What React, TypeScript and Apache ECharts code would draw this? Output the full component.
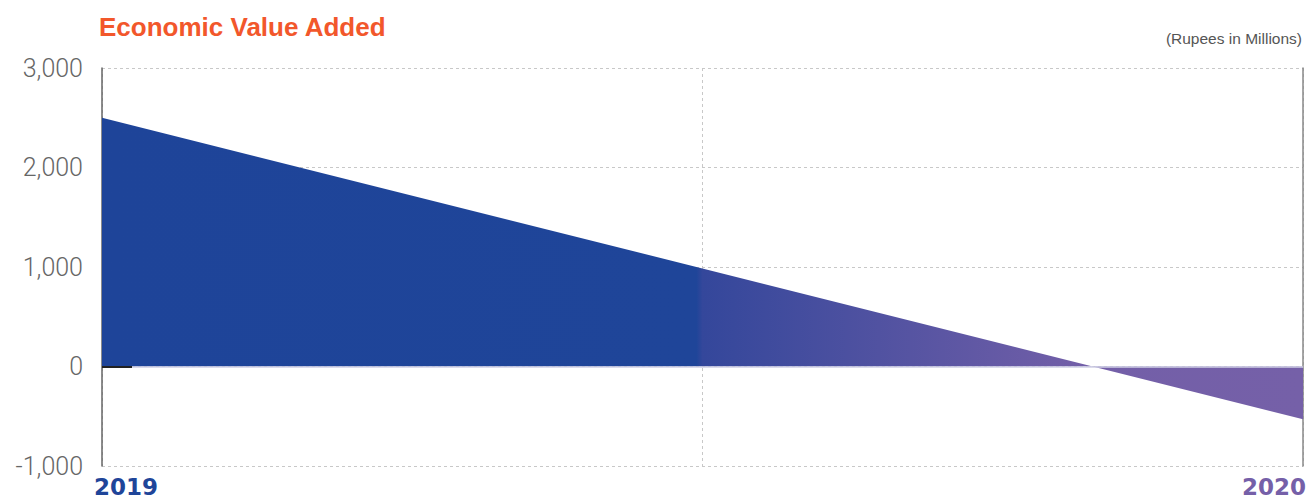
import React, { useEffect, useRef } from "react";
import * as echarts from "echarts";

const years = [2019, 2020];
const eva = [2500, -530];
const yTicks = [-1000, 0, 1000, 2000, 3000];
const titleText = "Economic Value Added";
const unitText = "(Rupees in Millions)";

export default function App() {
  const ref = useRef<HTMLDivElement>(null);
  useEffect(() => {
    if (!ref.current) return;
    const chart = echarts.init(ref.current, null, { renderer: "svg" });
    const fmt = (v: number) => v.toLocaleString("en-US");
    chart.setOption({
      animation: false,
      title: [
        {
          text: titleText,
          left: 94,
          top: 9,
          textStyle: { color: "#f2572b", fontSize: 26, fontWeight: "bold", fontFamily: "Liberation Sans" },
        },
        {
          text: unitText,
          right: 4,
          top: 25,
          textStyle: { color: "#555", fontSize: 15.5, fontWeight: "normal", fontFamily: "Liberation Sans" },
        },
      ],
      grid: { left: 102, right: 8, top: 68, bottom: 34 },
      xAxis: {
        type: "value",
        min: years[0],
        max: years[1],
        interval: 0.5,
        axisLine: { show: false },
        axisTick: { show: false },
        splitLine: { show: true, lineStyle: { color: "#c8c8c8", type: [3, 3], width: 1 } },
        axisLabel: {
          margin: 10,
          showMinLabel: true,
          showMaxLabel: true,
          alignMinLabel: "left",
          alignMaxLabel: "right",
          formatter: (v: number) => {
            if (v === years[0]) return `{a|${v}}`;
            if (v === years[1]) return `{b|${v}}`;
            return "";
          },
          rich: {
            a: { color: "#1f4599", fontSize: 23, lineHeight: 22, fontWeight: "bold", fontFamily: "DejaVu Sans", padding: [0, 0, 0, -8] },
            b: { color: "#7560a8", fontSize: 23, lineHeight: 22, fontWeight: "bold", fontFamily: "DejaVu Sans", padding: [0, -3, 0, 0] },
          },
        },
      },
      yAxis: [
        {
          type: "value",
          min: yTicks[0],
          max: yTicks[yTicks.length - 1],
          interval: 1000,
          axisLine: { show: true, lineStyle: { color: "#666", width: 1.5 } },
          axisTick: { show: false },
          splitLine: { show: true, lineStyle: { color: "#c8c8c8", type: [3, 3], width: 1 } },
          axisLabel: {
            margin: 19,
            formatter: (v: number) => fmt(v),
            color: "#666",
            fontSize: 25,
            fontWeight: 300,
            fontFamily: "Roboto",
          },
        },
        {
          type: "value",
          position: "right",
          min: yTicks[0],
          max: yTicks[yTicks.length - 1],
          interval: 1000,
          axisLine: { show: true, onZero: false, lineStyle: { color: "#888", width: 1.5 } },
          axisTick: { show: false },
          axisLabel: { show: false },
          splitLine: { show: false },
        },
      ],
      series: [
        {
          type: "line",
          data: years.map((y, i) => [y, eva[i]]),
          symbol: "none",
          lineStyle: { width: 0 },
          areaStyle: {
            opacity: 1,
            color: new echarts.graphic.LinearGradient(0, 0, 1, 0, [
              { offset: 0, color: "#1e4499" },
              { offset: 0.495, color: "#1f4599" },
              { offset: 0.5, color: "#34479b" },
              { offset: 0.82, color: "#735fa8" },
              { offset: 1, color: "#7560a8" },
            ]),
          },
          markLine: {
            silent: true,
            symbol: "none",
            label: { show: false },
            data: [
              { yAxis: 0, lineStyle: { color: "#cfcfe6", type: "solid", width: 1.5 } },
              [
                { coord: [years[0], 0], lineStyle: { color: "#222", type: "solid", width: 2 } },
                { coord: [years[0] + 0.025, 0] },
              ],
            ],
          },
          z: 2,
        },
      ],
    });
    return () => chart.dispose();
  }, []);
  return <div ref={ref} style={{ position: "absolute", left: 0, top: 0, width: 1311, height: 500 }} />;
}
